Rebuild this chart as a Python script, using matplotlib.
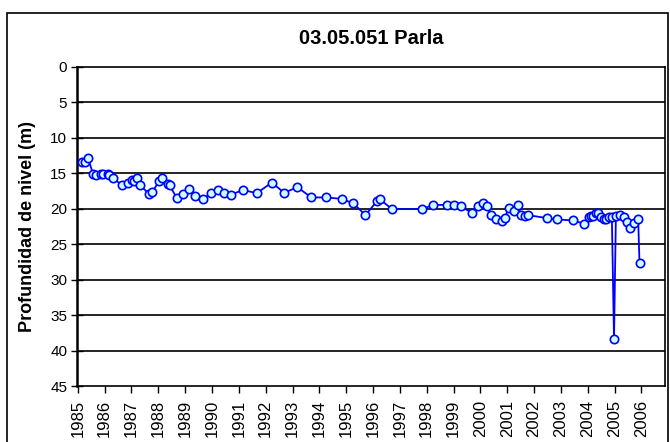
import matplotlib
matplotlib.use("Agg")
import matplotlib.pyplot as plt
from matplotlib.patches import Rectangle

plt.rcParams['font.family'] = ['Liberation Sans', 'DejaVu Sans']

# fecha (año decimal) y profundidad del nivel (m)
fechas = [1985.14, 1985.26, 1985.38, 1985.57, 1985.67, 1985.86, 1985.94, 1986.11, 1986.16, 1986.31,
          1986.66, 1986.87, 1987.02, 1987.08, 1987.22, 1987.33, 1987.65, 1987.78, 1988.03, 1988.15,
          1988.36, 1988.42, 1988.70, 1988.92, 1989.13, 1989.38, 1989.66, 1989.98, 1990.22, 1990.43,
          1990.72, 1991.15, 1991.67, 1992.23, 1992.69, 1993.18, 1993.70, 1994.26, 1994.83, 1995.27,
          1995.72, 1996.14, 1996.25, 1996.71, 1997.84, 1998.23, 1998.74, 1999.03, 1999.27, 1999.69,
          1999.90, 2000.08, 2000.26, 2000.38, 2000.60, 2000.81, 2000.92, 2001.05, 2001.26, 2001.39,
          2001.52, 2001.66, 2001.77, 2002.47, 2002.84, 2003.46, 2003.86, 2004.03, 2004.12, 2004.20,
          2004.30, 2004.40, 2004.49, 2004.59, 2004.70, 2004.80, 2004.90, 2004.98, 2005.05, 2005.21,
          2005.36, 2005.48, 2005.58, 2005.73, 2005.88, 2005.93]
profundidad = [13.45, 13.45, 12.8, 15.15, 15.3, 15.05, 15.15, 15.05, 15.3, 15.7,
               16.7, 16.35, 15.95, 16.05, 15.7, 16.7, 17.9, 17.65, 16.05, 15.7,
               16.5, 16.7, 18.55, 17.95, 17.2, 18.25, 18.65, 17.75, 17.4, 17.75,
               18.0, 17.35, 17.8, 16.3, 17.75, 16.95, 18.4, 18.4, 18.6, 19.25,
               20.9, 18.95, 18.65, 20.05, 20.05, 19.45, 19.45, 19.45, 19.65, 20.6,
               19.65, 19.15, 19.6, 20.9, 21.5, 21.75, 21.3, 19.85, 20.3, 19.4,
               20.85, 21.05, 20.9, 21.3, 21.5, 21.65, 22.1, 21.15, 21.05, 20.95,
               20.6, 20.6, 21.2, 21.45, 21.5, 21.2, 21.15, 38.4, 21.05, 20.85,
               21.2, 21.85, 22.75, 22.0, 21.45, 27.7]

anios = list(range(1985, 2007))
yticks = list(range(0, 50, 5))

fig = plt.figure(figsize=(6.7, 4.42), dpi=100)
ax = fig.add_axes([77/670, 1 - 386/442, (665 - 77)/670, (386 - 67)/442])

# marco exterior del gráfico
fig.patches.append(Rectangle((7/670, -0.05), 661/670, 1.05 - 13/442, transform=fig.transFigure,
                             fill=False, edgecolor='black', linewidth=1.2))

for v in yticks[1:-1]:
    ax.axhline(v, color='black', lw=1.2, zorder=1)

ax.plot(fechas, profundidad, color='#0000FF', lw=1.3, marker='o', markersize=6,
        markerfacecolor='#CCFFFF', markeredgecolor='#0000FF', markeredgewidth=1.2, zorder=3)

ax.set_xlim(1984.97, 2006.88)
ax.set_ylim(45, 0)
ax.set_yticks(yticks)
ax.set_xticks(anios)
ax.set_xticklabels([str(a) for a in anios], rotation=90)
ax.tick_params(axis='y', direction='inout', length=8, width=1, labelsize=11, pad=3)
ax.tick_params(axis='x', direction='out', length=5, width=1, labelsize=12, pad=5)
for s in ax.spines.values():
    s.set_linewidth(1.2)
ax.spines['left'].set_linewidth(1.8)

ax.set_ylabel("Profundidad de nivel (m)", fontsize=13, fontweight='bold', labelpad=10)
fig.text(371/670, 1 - 38/442, "03.05.051 Parla", fontsize=14.5, fontweight='bold',
         ha='center', va='center')

fig.savefig("out.png", dpi=100)
